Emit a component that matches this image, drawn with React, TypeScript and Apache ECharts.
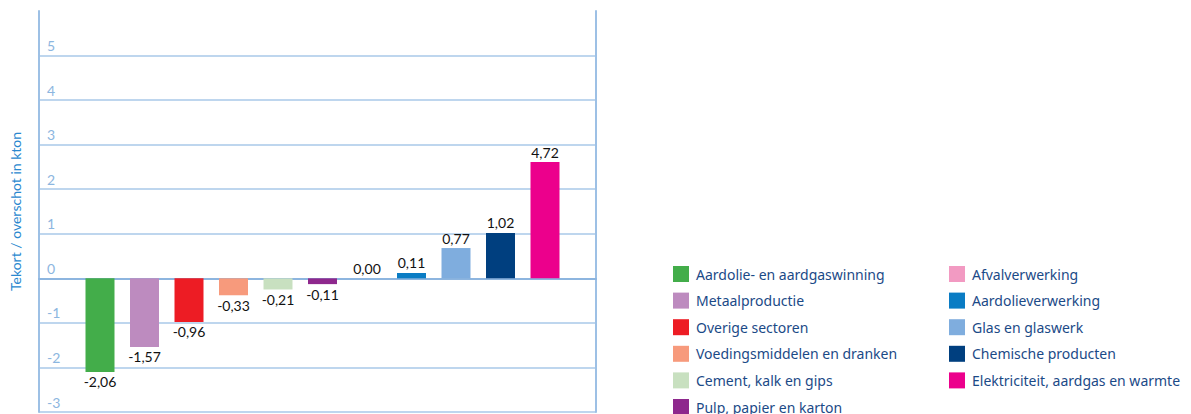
import React, { useEffect, useRef } from "react";
import * as echarts from "echarts";

const categories = [
  "Aardolie- en aardgaswinning",
  "Metaalproductie",
  "Overige sectoren",
  "Voedingsmiddelen en dranken",
  "Cement, kalk en gips",
  "Pulp, papier en karton",
  "Afvalverwerking",
  "Aardolieverwerking",
  "Glas en glaswerk",
  "Chemische producten",
  "Elektriciteit, aardgas en warmte",
];

const colors = [
  "#43ad4a",
  "#bd8bbf",
  "#ed1c24",
  "#f79a7c",
  "#c8e0c0",
  "#8e288d",
  "#f29ac2",
  "#0a7cc4",
  "#7fadde",
  "#003f7f",
  "#ec008c",
];

// values printed on the bars
const labelValues = [-2.06, -1.57, -0.96, -0.33, -0.21, -0.11, 0.0, 0.11, 0.77, 1.02, 4.72];
// bar heights as drawn in the picture (on the axis scale)
const barHeights = [-2.1, -1.54, -0.98, -0.38, -0.25, -0.13, 0, 0.12, 0.68, 1.02, 2.61];

const yTicks = [-3, -2, -1, 0, 1, 2, 3, 4, 5];

const fmt = (v: number) => v.toFixed(2).replace(".", ",");

export default function App() {
  const ref = useRef<HTMLDivElement>(null);
  useEffect(() => {
    const chart = echarts.init(ref.current!, null, { renderer: "svg" });
    const font = "Lato, 'Open Sans', sans-serif";
    const legendFont = "'Noto Sans', 'Open Sans', sans-serif";
    const yMin = yTicks[0];
    const yMax = 6;

    const series = categories.map((name, i) => ({
      name,
      type: "bar",
      xAxisIndex: 1,
      yAxisIndex: 2,
      barWidth: 29,
      barGap: "-100%",
      itemStyle: { color: colors[i] },
      data: categories.map((_, j) => (j === i ? barHeights[i] : "-")),
      label: {
        show: true,
        position: labelValues[i] < 0 ? "bottom" : "top",
        distance: 3,
        formatter: () => fmt(labelValues[i]),
        color: "#111111",
        fontSize: 14,
        fontFamily: font,
      },
    }));

    const legendBase = {
      orient: "vertical",
      padding: 0,
      itemWidth: 16,
      itemHeight: 16,
      itemGap: 10.6,
      icon: "rect",
      selectedMode: false,
      textStyle: {
        color: "#1b4a87",
        fontSize: 14,
        fontFamily: legendFont,
        lineHeight: 16,
        padding: [0, 0, 0, 2],
      },
    };

    chart.setOption({
      animation: false,
      grid: [
        { left: 39, top: 11, width: 557, height: 401 },
        { left: 77.75, top: 11, width: 489.5, height: 401 },
      ],
      legend: [
        { ...legendBase, left: 673, top: 266, data: categories.slice(0, 5) },
        { ...legendBase, left: 673, top: 399, data: categories.slice(5, 6) },
        { ...legendBase, left: 949, top: 266, data: categories.slice(6) },
      ],
      xAxis: [
        {
          gridIndex: 0,
          type: "category",
          data: [""],
          axisLine: { show: true, onZero: true, lineStyle: { color: "#8db5df", width: 2 } },
          axisTick: { show: false },
          axisLabel: { show: false },
          splitLine: { show: false },
        },
        { gridIndex: 1, type: "category", data: categories, show: false },
      ],
      yAxis: [
        {
          gridIndex: 0,
          type: "value",
          min: yMin,
          max: yMax,
          interval: 1,
          name: "Tekort / overschot in kton",
          nameLocation: "middle",
          nameGap: 17,
          nameTextStyle: { color: "#2a88cf", fontSize: 14, fontFamily: font },
          axisLine: { show: true, lineStyle: { color: "#9dc0e5", width: 2 } },
          axisTick: { show: false },
          axisLabel: {
            inside: true,
            margin: 8,
            verticalAlign: "bottom",
            padding: [0, 0, 3, 0],
            color: "#8cb6e0",
            fontSize: 14,
            fontFamily: font,
            formatter: (v: number) => (yTicks.includes(v) ? String(v) : ""),
          },
          splitLine: {
            show: true,
            showMaxLine: false,
            lineStyle: { color: "#a9c8e8", width: 1.5 },
          },
        },
        {
          gridIndex: 0,
          type: "value",
          position: "right",
          min: yMin,
          max: yMax,
          interval: 1,
          axisLine: { show: true, lineStyle: { color: "#9dc0e5", width: 2 } },
          axisTick: { show: false },
          axisLabel: { show: false },
          splitLine: { show: false },
        },
        {
          gridIndex: 1,
          type: "value",
          min: yMin,
          max: yMax,
          interval: 1,
          show: false,
          splitLine: { show: false },
        },
      ],
      series,
    });
    return () => chart.dispose();
  }, []);
  return (
    <div
      ref={ref}
      style={{ position: "absolute", left: 0, top: 0, width: 1191, height: 414, background: "#fff" }}
    />
  );
}
